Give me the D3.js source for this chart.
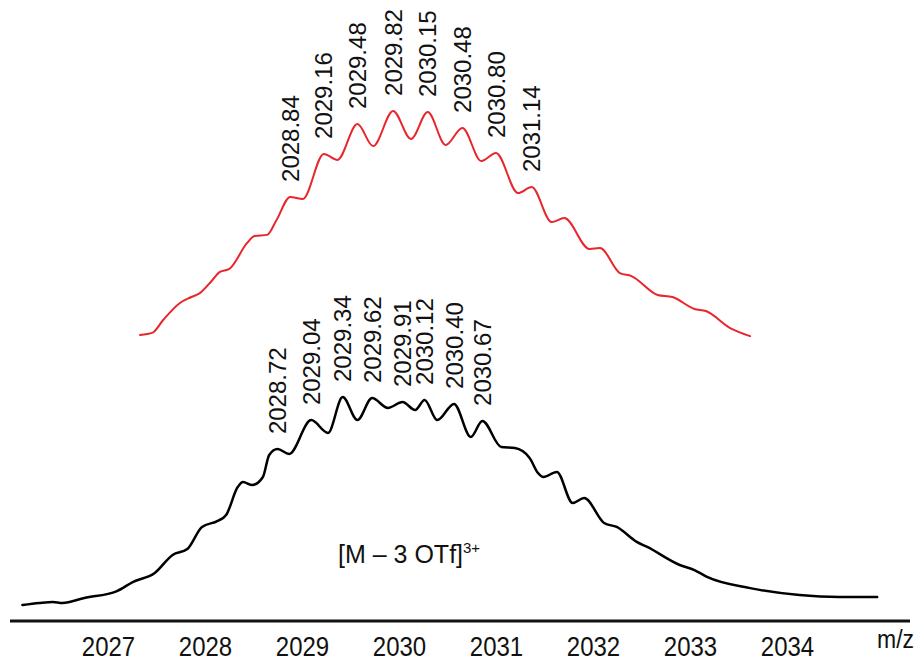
<!DOCTYPE html>
<html>
<head>
<meta charset="utf-8">
<script src="https://cdn.jsdelivr.net/npm/d3@7"></script>
<style>
  html, body { margin: 0; padding: 0; background: #fff; }
  svg { display: block; font-family: "Liberation Sans", Arial, Helvetica, sans-serif; }
</style>
</head>
<body>
<svg id="chart" width="922" height="660"></svg>
<script>
// Axis tick labels (m/z)
const axisTicks = [2027, 2028, 2029, 2030, 2031, 2032, 2033, 2034];

// Experimental isotope envelope (black): m/z and relative intensity (%)
const expMz = [2026.29, 2026.45, 2026.58, 2026.67, 2026.88, 2027.19, 2027.34, 2027.55, 2027.72, 2027.86,
  2028.00, 2028.15, 2028.23, 2028.34, 2028.39, 2028.48, 2028.58, 2028.64, 2028.72, 2028.83,
  2029.04, 2029.20, 2029.34, 2029.48, 2029.62, 2029.77, 2029.91, 2030.03, 2030.12, 2030.24,
  2030.40, 2030.56, 2030.67, 2030.85, 2030.98, 2031.12, 2031.20, 2031.25, 2031.38, 2031.53,
  2031.64, 2031.83, 2031.95, 2032.14, 2032.24, 2032.55, 2032.69, 2032.81, 2033.22, 2033.69,
  2034.07, 2034.43];
const expInt = [0.9, 1.9, 2.4, 1.9, 4.3, 7.6, 11.9, 16.2, 24.8, 27.6,
  38.1, 41.0, 43.8, 57.1, 59.5, 58.1, 61.9, 72.4, 75.2, 72.9,
  89.0, 82.9, 100, 89.0, 99.5, 94.8, 97.6, 93.8, 98.6, 89.0,
  96.7, 81.0, 88.6, 76.2, 75.7, 71.0, 63.8, 61.9, 64.3, 49.5,
  51.9, 40.0, 38.1, 31.0, 28.6, 20.0, 17.6, 14.3, 9.0, 5.7,
  4.8, 4.8];
const expPeaks = [2028.72, 2029.04, 2029.34, 2029.62, 2029.91, 2030.12, 2030.40, 2030.67];

// Simulated isotope envelope (red): m/z and relative intensity (%)
const simMz = [2027.41, 2027.53, 2027.63, 2027.79, 2027.90, 2027.98, 2028.10, 2028.17, 2028.26, 2028.43,
  2028.50, 2028.62, 2028.71, 2028.84, 2028.96, 2029.16, 2029.29, 2029.48, 2029.63, 2029.82,
  2029.99, 2030.15, 2030.32, 2030.48, 2030.66, 2030.80, 2031.01, 2031.14, 2031.33, 2031.45,
  2031.69, 2031.79, 2031.98, 2032.09, 2032.34, 2032.48, 2032.69, 2032.80, 2033.03, 2033.22];
const simInt = [2.2, 3.2, 8.7, 16.1, 18.7, 20.4, 26.1, 29.6, 30.9, 42.2,
  45.2, 45.7, 52.2, 62.2, 61.3, 80.9, 78.3, 93.9, 84.3, 99.6,
  87.4, 99.1, 84.8, 92.2, 77.8, 81.3, 63.9, 66.5, 51.3, 53.0,
  39.6, 40.0, 29.1, 27.8, 19.6, 18.7, 13.5, 12.6, 5.2, 1.7];
const simPeaks = [2028.84, 2029.16, 2029.48, 2029.82, 2030.15, 2030.48, 2030.80, 2031.14];

const ionLabel = "[M \u2013 3 OTf]";
const ionCharge = "3+";
const axisTitle = "m/z";

const svg = d3.select("#chart");

// m/z position of the spectra
const x = d3.scaleLinear().domain([2026, 2035]).range([-8, 937]);
// m/z tick label row
const xTicks = d3.scaleLinear().domain([2027, 2034]).range([108, 787]);
// stacked traces: simulated on top, experimental below
const ySim = d3.scaleLinear().domain([0, 100]).range([340, 110]);
const yExp = d3.scaleLinear().domain([0, 100]).range([607, 397]);

const fmt = d3.format(".2f");

function drawTrace(mz, inten, y, color, width, peaks) {
  const pts = mz.map((m, i) => ({ m, v: inten[i] }));
  const line = d3.line().x(d => x(d.m)).y(d => y(d.v)).curve(d3.curveMonotoneX);
  svg.append("path")
    .datum(pts)
    .attr("d", line)
    .attr("fill", "none")
    .attr("stroke", color)
    .attr("stroke-width", width)
    .attr("stroke-linejoin", "round")
    .attr("stroke-linecap", "round");

  const lab = peaks.map(p => pts.find(d => Math.abs(d.m - p) < 1e-6));
  svg.append("g").selectAll("text")
    .data(lab)
    .join("text")
    .attr("transform", d => `translate(${x(d.m)},${y(d.v) - 15}) rotate(-90)`)
    .attr("dy", "0.36em")
    .attr("text-anchor", "start")
    .attr("font-size", 24)
    .attr("fill", "#111")
    .text(d => fmt(d.m));
}

drawTrace(simMz, simInt, ySim, "#e8262b", 2, simPeaks);
drawTrace(expMz, expInt, yExp, "#000", 2.5, expPeaks);

// ion annotation
const ion = svg.append("text")
  .attr("x", 338).attr("y", 563)
  .attr("font-size", 25)
  .attr("fill", "#111")
  .text(ionLabel);
ion.append("tspan")
  .attr("dy", -10)
  .attr("font-size", 15)
  .text(ionCharge);

// baseline
svg.append("line")
  .attr("x1", 10).attr("x2", 910)
  .attr("y1", 621).attr("y2", 621)
  .attr("stroke", "#111")
  .attr("stroke-width", 3);

// tick labels (slightly tall numerals)
const axis = d3.axisBottom(xTicks)
  .tickValues(axisTicks)
  .tickFormat(d3.format("d"))
  .tickSize(0)
  .tickPadding(0);
const gAxis = svg.append("g")
  .attr("transform", "translate(0,621)")
  .call(axis);
gAxis.select(".domain").remove();
gAxis.selectAll("text")
  .attr("y", 0)
  .attr("dy", 0)
  .attr("transform", "translate(0,35) scale(1,1.15)")
  .attr("font-size", 24)
  .attr("font-family", "\"Liberation Sans\", Arial, sans-serif")
  .attr("fill", "#111");

svg.append("text")
  .attr("x", 877).attr("y", 648)
  .attr("font-size", 23)
  .attr("fill", "#111")
  .attr("transform", "translate(0,648) scale(1,1.12) translate(0,-648)")
  .text(axisTitle);
</script>
</body>
</html>
